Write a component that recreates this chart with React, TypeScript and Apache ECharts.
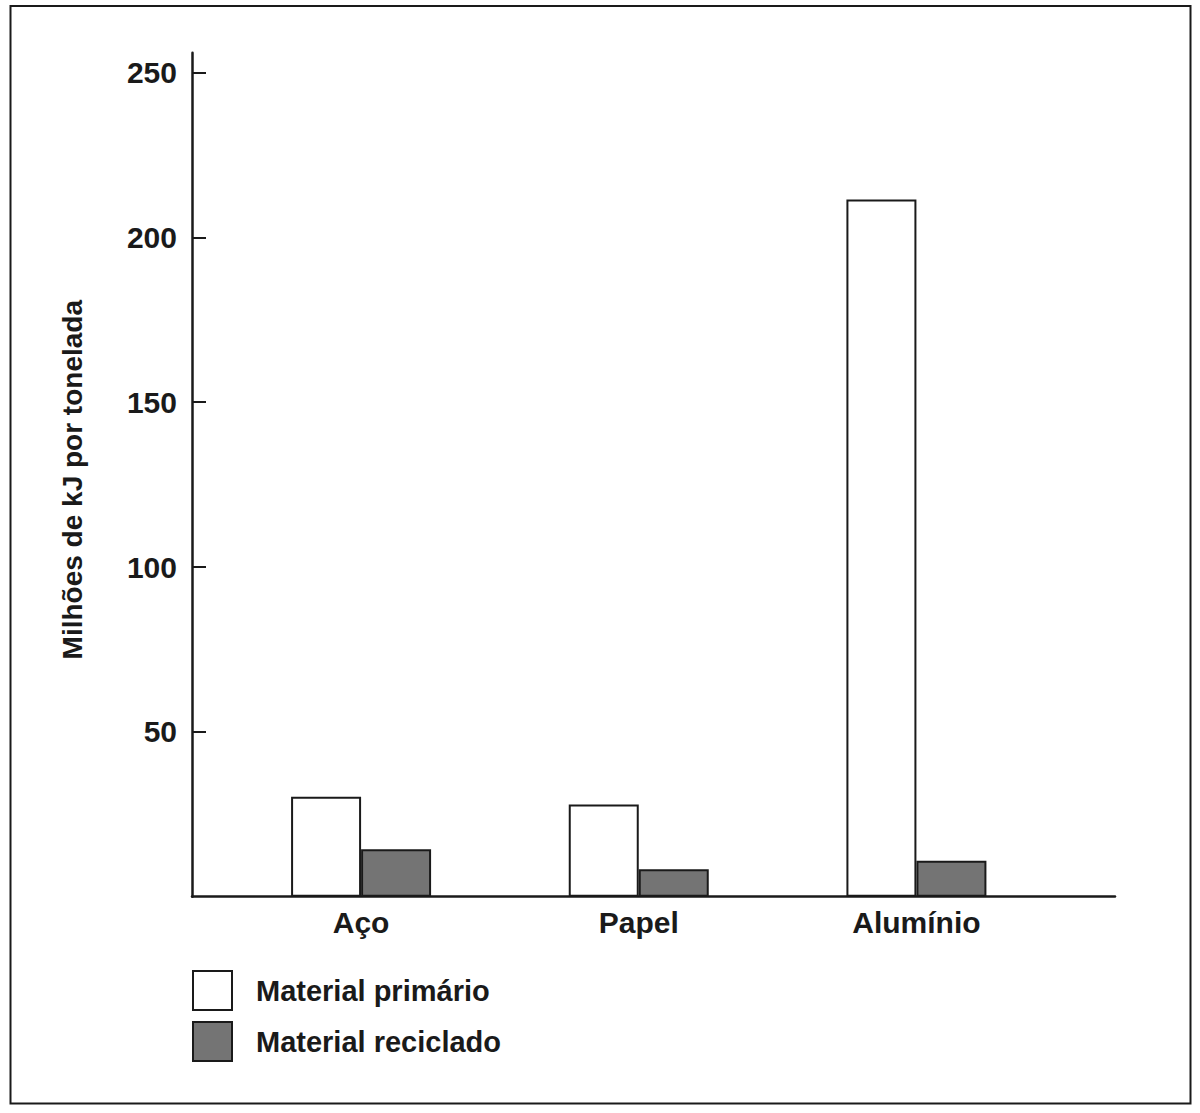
import { useEffect, useRef } from "react";
import * as echarts from "echarts";

const categories = ["Aço", "Papel", "Alumínio"];
const primario = [30.3, 28.0, 211.5];
const reciclado = [14.4, 8.3, 10.9];
const yTicks = [50, 100, 150, 200, 250];
const seriesNames = ["Material primário", "Material reciclado"];

const FONT = "'Liberation Sans', Arial, Helvetica, sans-serif";
const INK = "#1a1a1a";

export default function App() {
  const chartRef = useRef<HTMLDivElement>(null);

  useEffect(() => {
    if (!chartRef.current) return;
    const chart = echarts.init(chartRef.current, null, { renderer: "svg" });

    const barStyle = (color: string) => ({
      color,
      borderColor: INK,
      borderWidth: 2,
    });

    const option = {
      animation: false,
      backgroundColor: "#ffffff",
      textStyle: { fontFamily: FONT },
      grid: [
        { left: 192, right: 85, top: 52.7, bottom: 216.3 },
        { left: 222.25, right: 144.75, top: 52.7, bottom: 216.3 },
      ],
      xAxis: [
        {
          type: "value",
          gridIndex: 0,
          min: 0,
          max: 1,
          axisLine: { show: true, lineStyle: { color: INK, width: 2.5 } },
          axisTick: { show: false },
          axisLabel: { show: false },
          splitLine: { show: false },
        },
        {
          type: "category",
          gridIndex: 1,
          data: categories,
          axisLine: { show: false },
          axisTick: { show: false },
          axisLabel: {
            margin: 11,
            color: INK,
            fontSize: 30,
            fontWeight: "bold",
            fontFamily: FONT,
          },
        },
      ],
      yAxis: [
        {
          type: "value",
          gridIndex: 0,
          min: 0,
          max: 256,
          name: "Milhões de kJ por tonelada",
          nameLocation: "middle",
          nameGap: 106,
          nameTextStyle: {
            color: INK,
            fontSize: 28,
            fontWeight: "bold",
            fontFamily: FONT,
            padding: [0, 10, 0, 0],
          },
          axisLine: { show: true, lineStyle: { color: INK, width: 2.5 } },
          axisTick: {
            show: true,
            inside: true,
            length: 14,
            customValues: yTicks,
            lineStyle: { color: INK, width: 2 },
          },
          axisLabel: {
            margin: 15,
            color: INK,
            fontSize: 30,
            fontWeight: "bold",
            fontFamily: FONT,
            customValues: yTicks,
          },
          splitLine: { show: false },
        },
        {
          type: "value",
          gridIndex: 1,
          min: 0,
          max: 256,
          show: false,
          splitLine: { show: false },
        },
      ],
      legend: {
        orient: "vertical",
        left: 192,
        top: 970,
        padding: 0,
        itemWidth: 39,
        itemHeight: 39,
        itemGap: 10,
        icon: "rect",
        data: seriesNames,
        itemStyle: { borderColor: INK, borderWidth: 2 },
        textStyle: {
          color: INK,
          fontSize: 29,
          fontWeight: "bold",
          fontFamily: FONT,
          padding: [0, 0, 0, 19],
        },
      },
      series: [
        {
          name: seriesNames[0],
          type: "bar",
          xAxisIndex: 1,
          yAxisIndex: 1,
          barWidth: 70,
          barGap: "0%",
          data: primario,
          itemStyle: barStyle("#ffffff"),
        },
        {
          name: seriesNames[1],
          type: "bar",
          xAxisIndex: 1,
          yAxisIndex: 1,
          barWidth: 70,
          barGap: "0%",
          data: reciclado,
          itemStyle: barStyle("#747474"),
        },
      ],
      graphic: [
        {
          type: "rect",
          shape: { x: 10.5, y: 6, width: 1180, height: 1097.5 },
          style: { fill: "none", stroke: INK, lineWidth: 2 },
          silent: true,
        },
      ],
    };

    chart.setOption(option);

    const handleResize = () => chart.resize();
    window.addEventListener("resize", handleResize);
    return () => {
      window.removeEventListener("resize", handleResize);
      chart.dispose();
    };
  }, []);

  return (
    <div
      ref={chartRef}
      style={{
        position: "fixed",
        left: 0,
        top: 0,
        width: "1200px",
        height: "1113px",
      }}
    />
  );
}
